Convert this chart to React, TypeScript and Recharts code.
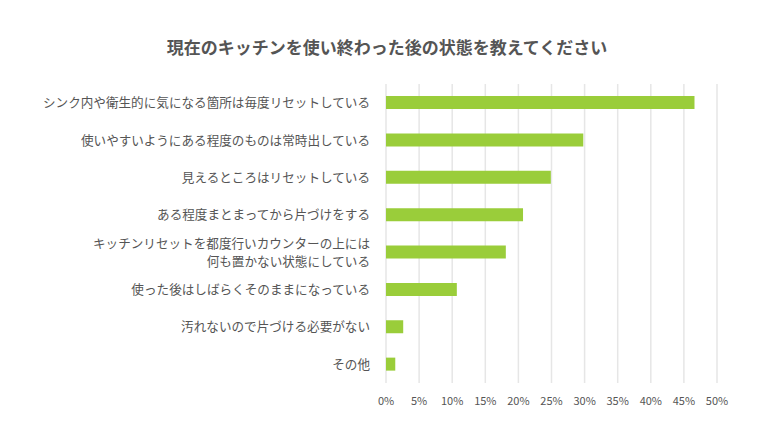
import React from 'react';
import { BarChart, Bar, XAxis, YAxis, CartesianGrid } from 'recharts';

const categories = [
  'シンク内や衛生的に気になる箇所は毎度リセットしている',
  '使いやすいようにある程度のものは常時出している',
  '見えるところはリセットしている',
  'ある程度まとまってから片づけをする',
  'キッチンリセットを都度行いカウンターの上には\n何も置かない状態にしている',
  '使った後はしばらくそのままになっている',
  '汚れないので片づける必要がない',
  'その他',
];
const values = [46.6, 29.8, 24.9, 20.7, 18.1, 10.7, 2.6, 1.4];
const xTicks = [0, 5, 10, 15, 20, 25, 30, 35, 40, 45, 50];

const data = categories.map((name, i) => ({ name, value: values[i] }));

const FONT = '"Noto Sans CJK JP", "Noto Sans", sans-serif';

const CategoryTick = (props: any) => {
  const { x, y, payload } = props;
  const lines = String(payload.value).split('\n');
  const lh = 18;
  const start = -((lines.length - 1) * lh) / 2;
  return (
    <text x={x} y={y} textAnchor="end" fill="#555" fontSize={12.6} fontFamily={FONT}>
      {lines.map((l, i) => (
        <tspan key={i} x={x} dy={i === 0 ? start + 4.5 : lh}>
          {l}
        </tspan>
      ))}
    </text>
  );
};

export default function App() {
  return (
    <div style={{ position: 'absolute', left: 0, top: 0, width: 774, height: 446, background: '#fff' }}>
      <div
        style={{
          position: 'absolute',
          left: 0,
          top: 36,
          width: 774,
          textAlign: 'center',
          fontFamily: FONT,
          fontSize: 17,
          fontWeight: 'bold',
          color: '#555',
          lineHeight: '22px',
        }}
      >
        現在のキッチンを使い終わった後の状態を教えてください
      </div>
      <BarChart
        width={774}
        height={446}
        data={data}
        layout="vertical"
        margin={{ top: 84, right: 57, bottom: 33, left: 0 }}
        barCategoryGap="0%"
      >
        <CartesianGrid horizontal={false} stroke="#e6e6e6" strokeWidth={1.5} />
        <XAxis
          type="number"
          domain={[0, 50]}
          ticks={xTicks}
          tickFormatter={(v) => `${v}%`}
          axisLine={false}
          tickLine={false}
          tickSize={0}
          tickMargin={14}
          interval={0}
          tick={{ fill: '#555', fontSize: 11, fontFamily: FONT }}
        />
        <YAxis
          type="category"
          dataKey="name"
          width={386}
          axisLine={false}
          tickLine={false}
          tickSize={0}
          tickMargin={16}
          interval={0}
          tick={<CategoryTick />}
        />
        <Bar dataKey="value" fill="#9acd3a" barSize={13} isAnimationActive={false} />
      </BarChart>
    </div>
  );
}
